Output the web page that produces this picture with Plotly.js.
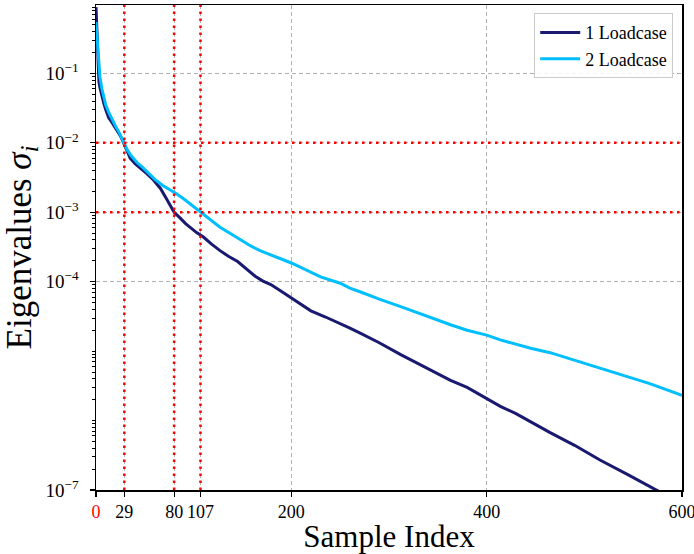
<!DOCTYPE html>
<html>
<head>
<meta charset="utf-8">
<script src="https://cdn.plot.ly/plotly-3.0.1.min.js"></script>
<style>html,body{margin:0;padding:0;background:#fff;}#chart{width:694px;height:554px;}</style>
</head>
<body>
<div id="chart"></div>
<script>
// Sample indices and eigenvalues
const idx1 = [0,1,2,3,4,6,8,10,13,16,20,25,29,32,35,40,46,52,58,66,72,80,86,92,98,103,110,118,127,136,145,155,163,171,179,190,200,210,220,235,250,260,271,290,312,335,363,380,400,414,430,445,465,490,516,545,573,600];
const val1 = [0.9,0.32,0.1,0.076,0.063,0.047,0.037,0.030,0.023,0.020,0.0166,0.0126,0.0095,0.0074,0.006,0.005,0.0043,0.0036,0.003,0.0022,0.00158,0.001,0.00083,0.00068,0.00058,0.00051,0.00044,0.00035,0.00028,0.00023,0.000195,0.000148,0.00012,0.000102,0.000091,0.000072,0.000058,0.000047,0.000038,0.000031,0.000025,0.0000214,0.0000180,0.0000132,0.0000089,0.0000061,0.0000038,0.000003,0.0000021,0.0000016,0.00000126,0.00000095,0.00000067,0.00000044,0.00000027,0.000000165,0.0000001,0.000000063];

const idx2 = [0,1,2,3,4,6,8,10,13,16,20,24,28,32,36,42,48,54,60,68,76,82,90,98,107,117,127,138,148,158,168,179,189,200,215,230,250,260,271,290,312,335,363,380,400,414,430,445,465,490,516,540,567,600];
const val2 = [0.55,0.32,0.18,0.118,0.089,0.06,0.044,0.035,0.0275,0.0224,0.0174,0.0138,0.0107,0.0079,0.0065,0.0052,0.0044,0.0036,0.003,0.00245,0.0021,0.00186,0.00155,0.00126,0.001,0.00078,0.00061,0.00049,0.0004,0.00033,0.00028,0.00024,0.000214,0.000186,0.000148,0.000117,0.000095,0.000081,0.000071,0.000056,0.0000437,0.000033,0.000024,0.00002,0.000017,0.0000145,0.0000126,0.000011,0.0000095,0.0000074,0.0000056,0.0000044,0.0000034,0.0000023];

const seriesNames = ['1 Loadcase', '2 Loadcase'];
const thresholdIdx = [29, 80, 107];
const thresholdVals = [1e-2, 1e-3];

const xTickVals = [0, 29, 80, 107, 200, 400, 600];
const xTickText = ['<span style="color:red">0</span>', '29', '80', '107', '200', '400', '600'];
const yTickVals = [1e-7, 1e-4, 1e-3, 1e-2, 1e-1];
const yTickText = ['10<sup>−7</sup>', '10<sup>−4</sup>', '10<sup>−3</sup>', '10<sup>−2</sup>', '10<sup>−1</sup>'];

const FONT = 'Liberation Serif, Times New Roman, serif';

const traces = [
  {x: idx1, y: val1, name: seriesNames[0], mode: 'lines', line: {color: '#191970', width: 3}},
  {x: idx2, y: val2, name: seriesNames[1], mode: 'lines', line: {color: '#00BFFF', width: 3}}
];

const shapes = [];
thresholdIdx.forEach(v => shapes.push({type: 'line', xref: 'x', yref: 'paper', x0: v, x1: v, y0: 0, y1: 1,
  line: {color: 'red', width: 2.5, dash: '2.5px,4.5px'}, layer: 'above'}));
thresholdVals.forEach(v => shapes.push({type: 'line', xref: 'paper', yref: 'y', x0: 0, x1: 1, y0: v, y1: v,
  line: {color: 'red', width: 2.5, dash: '2.5px,4.5px'}, layer: 'above'}));

const layout = {
  width: 694, height: 554,
  margin: {l: 96, r: 12, t: 5, b: 64},
  paper_bgcolor: '#fff', plot_bgcolor: '#fff',
  font: {family: FONT, color: '#000', size: 18},
  showlegend: true,
  legend: {x: 0.985, xanchor: 'right', y: 0.983, yanchor: 'top', bgcolor: 'rgba(255,255,255,0.85)',
    bordercolor: '#cccccc', borderwidth: 1, font: {family: FONT, size: 18}, itemwidth: 40, tracegroupgap: 0},
  xaxis: {
    range: [0, 600], tickmode: 'array', tickvals: xTickVals, ticktext: xTickText,
    ticks: 'outside', ticklen: 5, tickwidth: 1.2, tickcolor: '#000', ticklabeloverflow: 'allow',
    showline: true, linecolor: '#000', linewidth: 1.5, mirror: true,
    showgrid: true, gridcolor: '#b0b0b0', gridwidth: 1, griddash: '4px,3px',
    zeroline: false, tickfont: {family: FONT, size: 18},
    title: {text: 'Sample Index', font: {family: FONT, size: 31}, standoff: 4}
  },
  yaxis: {
    type: 'log', range: [-7, -0.015], tickmode: 'array', tickvals: yTickVals, ticktext: yTickText,
    ticks: 'outside', ticklen: 5, tickwidth: 1.2, tickcolor: '#000', ticklabelstandoff: 7,
    showline: true, linecolor: '#000', linewidth: 1.5, mirror: true,
    showgrid: true, gridcolor: '#b0b0b0', gridwidth: 1, griddash: '4px,3px',
    zeroline: false, tickfont: {family: FONT, size: 19},
    minor: {ticks: 'outside', ticklen: 3, tickwidth: 1, tickcolor: '#000', dtick: 'D1', showgrid: false},
    title: {text: 'Eigenvalues <i>σ<sub>i</sub></i>', font: {family: FONT, size: 35}, standoff: 4}
  },
  shapes: shapes
};

Plotly.newPlot('chart', traces, layout, {displayModeBar: false, staticPlot: true});
</script>
</body>
</html>
